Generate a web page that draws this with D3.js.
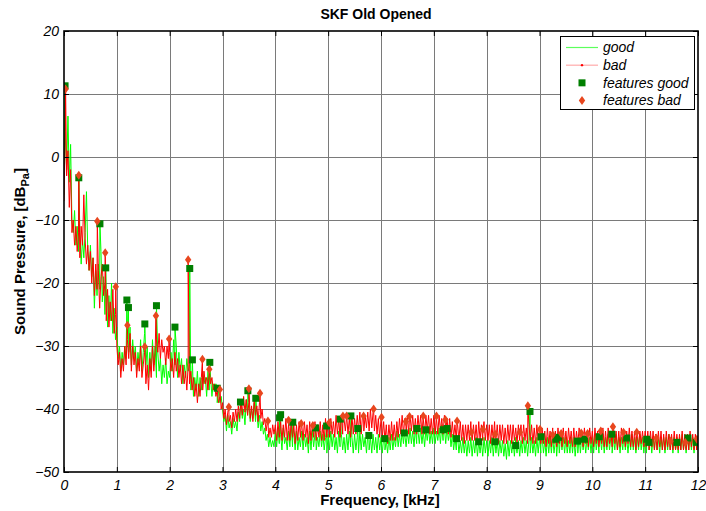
<!DOCTYPE html>
<html>
<head>
<meta charset="utf-8">
<script src="https://cdn.jsdelivr.net/npm/d3@7"></script>
<style>
  body { margin: 0; background: #fff; }
  svg { font-family: Arial, "Liberation Sans", sans-serif; }
</style>
</head>
<body>
<div id="chart"></div>
<script>
// spectrum samples, one every 0.025 kHz from 0 to 12 kHz (dB re 1 Pa), one kHz per two rows
var stepKHz = 0.025;

var goodDb = [
  -6, 3, -2, 6.5, -4, 2, -10, -12, -8.5, -14, -11, -15, -12, -17, -13, -16, -12, -5.5, -15, -18,
  -14, -19, -16, -24, -18, -22, -17, -21, -15, -23, -19, -25, -21, -27, -22, -26, -20, -28, -24, -29,
  -27, -32, -30, -34, -31, -33, -30, -32, -28, -31, -27, -33, -29, -32, -30, -34, -31, -33, -29, -34,
  -31, -28, -33, -30, -35, -31, -34, -29, -33, -30, -35, -31, -34, -32, -36, -33, -35, -32, -36, -34,
  -35, -31, -34, -29, -33, -30, -35, -31, -34, -32, -36, -33, -35, -32, -34, -33, -37, -34, -38, -35,
  -37, -34, -38, -35, -37, -34, -36, -35, -38, -34, -37, -35, -38, -36, -37, -36, -39, -37, -39, -38,
  -40, -42, -41, -43.5, -41, -43, -42, -44, -41.5, -43, -42, -43.5, -40.5, -42, -39.5, -41.5, -40, -42.5, -38.5, -41,
  -39, -42, -40, -41.5, -39, -42, -40.5, -43, -41, -43.5, -42, -44, -43, -45, -44, -46, -44.5, -46, -45, -46,
  -43.5, -46, -43, -45.5, -44, -46.5, -43, -45.5, -44.5, -46.5, -43.5, -46, -42.5, -46, -44, -46.5, -43.5, -46.5, -44.5, -46,
  -43.5, -46.5, -44, -46, -44.5, -47, -43.5, -46.5, -43.5, -46, -44, -46.5, -44.5, -46, -43.5, -46, -44, -46.5, -44.5, -47,
  -44, -46.5, -43.5, -46, -44, -46.5, -44.5, -47, -43.5, -46, -44, -46.5, -44.5, -47, -44, -46.5, -43.5, -46, -44.5, -47,
  -44, -46.5, -44.5, -47, -43.5, -46.5, -44, -46, -44.5, -47, -44, -46.5, -44.5, -47, -44, -46.5, -44.5, -47, -44, -46.5,
  -44.5, -47, -44.5, -46.5, -45, -47, -44.5, -46.5, -44, -46.5, -44.5, -46, -43.5, -46, -44, -46, -43.5, -45.5, -44, -46,
  -43.5, -45.5, -43, -45.5, -43.5, -46, -43, -45.5, -43.5, -45.5, -43, -45.5, -43.5, -46, -43, -45, -43, -45.5, -43.5, -45.5,
  -43, -45.5, -43.5, -45, -43, -45.5, -42.5, -45, -43, -45.5, -42.5, -45, -43.5, -46, -44, -46.5, -44.5, -46.5, -44.5, -47,
  -45, -47, -44.5, -47, -45, -47.5, -45, -47, -44.5, -47.5, -45, -47, -44.5, -47.5, -45, -47, -45, -47.5, -44.5, -47,
  -45, -47.5, -45, -47, -44.5, -47.5, -45, -47, -45, -47.5, -45, -47, -45, -47.5, -45.5, -48, -45, -47.5, -45, -47,
  -45, -47.5, -44.5, -47, -45, -47.5, -45, -47, -44.5, -47, -45, -47.5, -45, -47, -44.5, -47, -45, -47.5, -44.5, -47,
  -44.5, -47, -44.5, -47, -45, -47.5, -44.5, -47, -44.5, -47, -44.5, -47, -45, -47.5, -44.5, -47, -44, -46.5, -44.5, -47,
  -44.5, -47, -45, -47, -44.5, -47, -44.5, -47.5, -45, -47, -44.5, -47, -44, -46.5, -44.5, -47, -44.5, -46.5, -44.5, -47,
  -44.5, -47, -44, -46.5, -44.5, -47, -44.5, -46.5, -44, -47, -44.5, -46.5, -44, -46.5, -44.5, -47, -44.5, -46.5, -44, -46.5,
  -44.5, -47, -44.5, -46.5, -44, -46.5, -44.5, -47, -44.5, -46.5, -44, -46.5, -44.5, -47, -44.5, -46.5, -44, -46.5, -44.5, -47,
  -44.5, -47, -44.5, -46.5, -44.5, -47, -44.5, -46.5, -44, -46.5, -44.5, -47, -44.5, -46.5, -44.5, -47, -44.5, -46.5, -44, -46.5,
  -44.5, -47, -44.5, -46.5, -44.5, -47, -44.5, -46.5, -44, -46.5, -44.5, -47, -44.5, -46.5, -44, -46.5, -44.5, -47, -44.5, -46.5,
  -45
];

var badDb = [
  -7, 4, -3, 1, -8, -2, -12, -10, -14, -11, -15, -12, -16, -11, -14, -6, -13, -17, -14, -18,
  -15, -20, -16, -22, -17, -21, -18, -24, -19, -17, -22, -20, -26, -21, -27, -23, -26, -21, -28, -25,
  -30, -33, -31, -35, -32, -34, -30, -33, -29, -32, -28, -34, -30, -33, -31, -35, -32, -34, -30, -35,
  -33, -31, -36, -33, -37, -32, -35, -30, -34, -31, -29, -31, -28, -32, -29, -31, -30, -33, -30, -32,
  -31, -34, -32, -35, -31, -34, -32, -35, -33, -36, -33, -36, -34, -37, -33, -36, -34, -37, -35, -38,
  -36, -39, -36, -38, -35, -37, -34, -36, -35, -37, -34, -36, -35, -37, -36, -38, -37, -39, -38, -40,
  -39, -41.5, -40, -42.5, -40.5, -42, -41, -43, -40.5, -42, -40, -42, -39.5, -41.5, -38.5, -41, -38, -40.5, -38.5, -41,
  -39, -41.5, -39.5, -42, -38.5, -41, -39.5, -42, -39, -41.5, -40, -42.5, -41.5, -43.5, -42, -44.5, -43, -44.5, -42.5, -44,
  -42.5, -45, -42, -44.5, -42, -45, -42.5, -44.5, -41.5, -45, -42.5, -45, -42, -44.5, -42.5, -45.5, -42.5, -45, -42, -44.5,
  -42.5, -45, -42, -44.5, -42.5, -45.5, -42, -45, -42.5, -44.5, -42, -45, -42.5, -44.5, -42, -45, -42.5, -45, -41.5, -44.5,
  -42, -44.5, -41.5, -44, -42, -44.5, -41, -44, -41.5, -44.5, -41, -44, -41.5, -43.5, -41, -44, -41.5, -44.5, -41, -44,
  -41.5, -44, -41, -43.5, -40.5, -44, -41, -43.5, -41, -43, -40.5, -43.5, -40, -43, -40.5, -43.5, -41, -44, -41.5, -44.5,
  -41.5, -44.5, -42, -45, -42.5, -45.5, -42.5, -45, -42, -45, -42.5, -45, -42, -44.5, -41.5, -44, -41, -44, -41.5, -44,
  -41, -44, -41, -43.5, -41, -44, -41.5, -44, -41, -43.5, -41, -44, -41.5, -44, -41, -43.5, -41, -44, -41.5, -44,
  -41, -44, -41.5, -44, -41, -43.5, -41.5, -44, -41, -43.5, -41.5, -44, -41.5, -44.5, -42, -44.5, -42.5, -45, -42.5, -45,
  -42, -45, -42.5, -45.5, -42.5, -45, -42.5, -45, -42, -45, -42.5, -45, -42.5, -45.5, -42, -45, -42.5, -45, -42, -45,
  -42.5, -45, -42.5, -45.5, -42.5, -45, -42, -45, -42.5, -45.5, -42.5, -45, -42.5, -45.5, -43, -45.5, -42.5, -45, -42.5, -45.5,
  -42.5, -45, -43, -45.5, -42.5, -45, -42.5, -45.5, -42.5, -45, -43, -45.5, -42.5, -45, -42.5, -45.5, -43, -45.5, -42.5, -45,
  -43, -45.5, -43, -45.5, -43.5, -46, -43, -45.5, -43.5, -46, -43, -45.5, -43.5, -46, -43, -45.5, -43.5, -46, -43, -45.5,
  -43.5, -46, -43, -45.5, -43.5, -46, -43, -46, -43.5, -45.5, -43, -45.5, -43.5, -46, -43, -45.5, -43.5, -46, -43, -45.5,
  -43.5, -46, -43, -45.5, -43.5, -46, -43.5, -45.5, -43, -46, -43.5, -46, -43, -45.5, -43.5, -46, -43, -45.5, -43.5, -46.5,
  -43.5, -46, -43, -45.5, -43.5, -46, -43.5, -45.5, -43, -46, -43.5, -46, -43.5, -46.5, -43.5, -46, -43.5, -45.5, -43.5, -46,
  -43.5, -46, -43.5, -46.5, -43.5, -46, -43.5, -46.5, -44, -46.5, -43.5, -46, -43.5, -46.5, -44, -46.5, -43.5, -46, -44, -46.5,
  -44, -46.5, -43.5, -46.5, -44, -46.5, -44, -46.5, -43.5, -46.5, -44, -46.5, -44, -46.5, -43.5, -46, -44, -46.5, -44, -46.5,
  -45
];

// picked peaks
var featGoodKHz = [0.02, 0.28, 0.68, 0.79, 1.19, 1.22, 1.53, 1.75, 2.10, 2.38, 2.43, 2.76, 2.90,
  3.34, 3.48, 3.63, 4.08, 4.10, 4.33, 4.76, 4.97, 5.23, 5.43, 5.56, 5.77, 6.07, 6.44, 6.68, 6.85,
  7.18, 7.25, 7.43, 7.85, 8.16, 8.55, 8.82, 9.03, 9.31, 9.36, 9.72, 9.85, 10.13, 10.37, 10.65,
  11.03, 11.07, 11.60, 11.81, 11.97];
var featGoodDb = [11.3, -3.3, -10.6, -17.6, -22.7, -23.9, -26.5, -23.6, -27.0, -17.7, -32.2, -32.6, -36.7,
  -38.9, -37.1, -38.3, -41.4, -40.9, -42.1, -43.0, -42.7, -41.6, -41.1, -43.1, -44.2, -44.7, -43.8, -43.1, -43.3,
  -43.3, -43.1, -44.7, -45.2, -45.2, -45.8, -40.4, -44.4, -44.8, -44.5, -45.1, -44.8, -44.4, -44.0, -44.6,
  -44.8, -45.3, -45.3, -44.6, -45.3];

var featBadKHz = [0.03, 0.28, 0.63, 0.78, 0.98, 1.20, 1.53, 1.74, 1.99, 2.35, 2.62, 2.75, 2.95,
  3.12, 3.50, 3.71, 3.86, 4.25, 4.49, 4.71, 5.02, 5.28, 5.35, 5.67, 5.86, 6.01, 6.47, 6.54, 6.80,
  7.05, 7.22, 7.44, 7.71, 7.93, 8.16, 8.63, 8.78, 9.01, 9.25, 9.41, 9.79, 9.91, 10.16, 10.39, 10.59,
  10.84, 11.21, 11.48, 11.76, 11.98];
var featBadDb = [10.8, -2.9, -10.2, -15.2, -20.6, -26.7, -30.1, -25.2, -28.9, -16.3, -32.1, -33.7, -36.9,
  -39.7, -36.8, -37.5, -41.9, -41.8, -42.3, -42.6, -42.2, -41.1, -41.1, -41.1, -40.0, -41.3, -42.0, -41.2, -41.1,
  -41.1, -41.7, -41.9, -43.7, -43.2, -44.0, -43.7, -39.5, -43.2, -44.1, -43.9, -43.8, -43.9, -43.5, -42.8, -43.7,
  -43.7, -44.6, -45.1, -45.3, -44.8];

var xTicks = d3.range(0, 13, 1);
var yTicks = d3.range(-50, 21, 10);

var width = 706, height = 511;
var plotLeft = 64, plotRight = 698, plotTop = 31, plotBottom = 472;

var svg = d3.select("#chart").append("svg")
  .attr("width", width)
  .attr("height", height);

var x = d3.scaleLinear().domain([0, 12]).range([plotLeft, plotRight]);
var y = d3.scaleLinear().domain([-50, 20]).range([plotBottom, plotTop]);

// spectrum + its peaks in one sorted list
function series(db, fk, fd) {
  var pts = db.map(function(v, i) { return [i * stepKHz, v]; });
  fk.forEach(function(f, i) { pts.push([f, fd[i]]); });
  return pts.sort(function(a, b) { return a[0] - b[0]; });
}
var goodPts = series(goodDb, featGoodKHz, featGoodDb);
var badPts = series(badDb, featBadKHz, featBadDb);

svg.append("defs").append("clipPath").attr("id", "plotclip")
  .append("rect")
  .attr("x", plotLeft).attr("y", plotTop - 6)
  .attr("width", plotRight - plotLeft).attr("height", plotBottom - plotTop + 6);

// grid
var grid = svg.append("g").attr("stroke", "#7a7a7a").attr("stroke-width", 1);
grid.selectAll("line.gx").data(xTicks.slice(1, -1)).enter().append("line")
  .attr("x1", function(d) { return Math.round(x(d)) + 0.5; })
  .attr("x2", function(d) { return Math.round(x(d)) + 0.5; })
  .attr("y1", plotTop).attr("y2", plotBottom);
grid.selectAll("line.gy").data(yTicks.slice(1, -1)).enter().append("line")
  .attr("y1", function(d) { return Math.round(y(d)) + 0.5; })
  .attr("y2", function(d) { return Math.round(y(d)) + 0.5; })
  .attr("x1", plotLeft).attr("x2", plotRight);

var plot = svg.append("g").attr("clip-path", "url(#plotclip)");

var line = d3.line()
  .x(function(d) { return x(d[0]); })
  .y(function(d) { return y(d[1]); });

plot.append("path")
  .datum(goodPts)
  .attr("fill", "none")
  .attr("stroke", "#00ff00")
  .attr("stroke-width", 1)
  .attr("d", line);

plot.append("path")
  .datum(badPts)
  .attr("fill", "none")
  .attr("stroke", "#ff0000")
  .attr("stroke-width", 1)
  .attr("d", line);

var sq = 7;
plot.append("g").attr("fill", "#007f00")
  .selectAll("rect").data(featGoodKHz).enter().append("rect")
  .attr("x", function(d) { return x(d) - sq / 2; })
  .attr("y", function(d, i) { return y(featGoodDb[i]) - sq / 2; })
  .attr("width", sq).attr("height", sq);

var diamond = "M0,-4.5L3.2,0L0,4.5L-3.2,0Z";
plot.append("g").attr("fill", "#e8461e")
  .selectAll("path").data(featBadKHz).enter().append("path")
  .attr("transform", function(d, i) { return "translate(" + x(d) + "," + y(featBadDb[i]) + ")"; })
  .attr("d", diamond);

// axes box + inward ticks on all sides
var xAxisB = d3.axisBottom(x).tickValues(xTicks).tickSize(-5).tickPadding(7).tickFormat(d3.format("d"));
var xAxisT = d3.axisTop(x).tickValues(xTicks).tickSize(-5).tickFormat("");
var yAxisL = d3.axisLeft(y).tickValues(yTicks).tickSize(-5).tickPadding(5).tickFormat(d3.format("d"));
var yAxisR = d3.axisRight(y).tickValues(yTicks).tickSize(-5).tickFormat("");

function styleAxis(g) {
  g.selectAll(".tick line").attr("stroke", "#000");
  g.selectAll(".tick text")
    .attr("font-size", 14)
    .attr("font-style", "italic")
    .attr("fill", "#000");
}

svg.append("g").attr("transform", "translate(0," + plotBottom + ")").call(xAxisB).call(styleAxis)
  .selectAll(".tick text").attr("dy", "0.75em");
svg.append("g").attr("transform", "translate(0," + plotTop + ")").call(xAxisT).call(styleAxis);
svg.append("g").attr("transform", "translate(" + plotLeft + ",0)").call(yAxisL).call(styleAxis);
svg.append("g").attr("transform", "translate(" + plotRight + ",0)").call(yAxisR).call(styleAxis);
svg.selectAll(".domain").remove();
svg.append("rect")
  .attr("x", plotLeft).attr("y", plotTop)
  .attr("width", plotRight - plotLeft).attr("height", plotBottom - plotTop)
  .attr("fill", "none").attr("stroke", "#000").attr("stroke-width", 1.6);

// titles
svg.append("text")
  .attr("x", 376).attr("y", 19)
  .attr("text-anchor", "middle")
  .attr("font-size", 14).attr("font-weight", "bold")
  .text("SKF Old Opened");

svg.append("text")
  .attr("x", 380).attr("y", 505)
  .attr("text-anchor", "middle")
  .attr("font-size", 15).attr("font-weight", "bold")
  .text("Frequency, [kHz]");

var yl = svg.append("text")
  .attr("transform", "translate(25," + (plotTop + plotBottom) / 2 + ") rotate(-90)")
  .attr("text-anchor", "middle")
  .attr("font-size", 15).attr("font-weight", "bold");
yl.append("tspan").text("Sound Pressure, [dB");
yl.append("tspan").attr("font-size", 11).attr("dy", 4).text("Pa");
yl.append("tspan").attr("dy", -4).text("]");

// legend
var legendItems = ["good", "bad", "features good", "features bad"];
var lg = svg.append("g");
lg.append("rect")
  .attr("x", 560.5).attr("y", 36.5)
  .attr("width", 134).attr("height", 73)
  .attr("fill", "#fff").attr("stroke", "#000").attr("stroke-width", 1);

var rowY = d3.scalePoint().domain(legendItems).range([47.5, 100.5]);
legendItems.forEach(function(name, i) {
  var cy = rowY(name);
  if (i === 0) {
    lg.append("line").attr("x1", 566).attr("x2", 598).attr("y1", cy).attr("y2", cy)
      .attr("stroke", "#5cff5c").attr("stroke-width", 1.2);
  } else if (i === 1) {
    lg.append("line").attr("x1", 566).attr("x2", 598).attr("y1", cy).attr("y2", cy)
      .attr("stroke", "#ff9a9a").attr("stroke-width", 1);
    lg.append("circle").attr("cx", 582).attr("cy", cy).attr("r", 1.2).attr("fill", "#ff0000");
  } else if (i === 2) {
    lg.append("rect").attr("x", 582 - 3.5).attr("y", cy - 3.5).attr("width", 7).attr("height", 7)
      .attr("fill", "#007f00");
  } else {
    lg.append("path").attr("transform", "translate(582," + cy + ")").attr("d", diamond)
      .attr("fill", "#e8461e");
  }
  lg.append("text")
    .attr("x", 603).attr("y", cy).attr("dy", "0.35em")
    .attr("font-size", 14).attr("font-style", "italic")
    .text(name);
});
</script>
</body>
</html>
